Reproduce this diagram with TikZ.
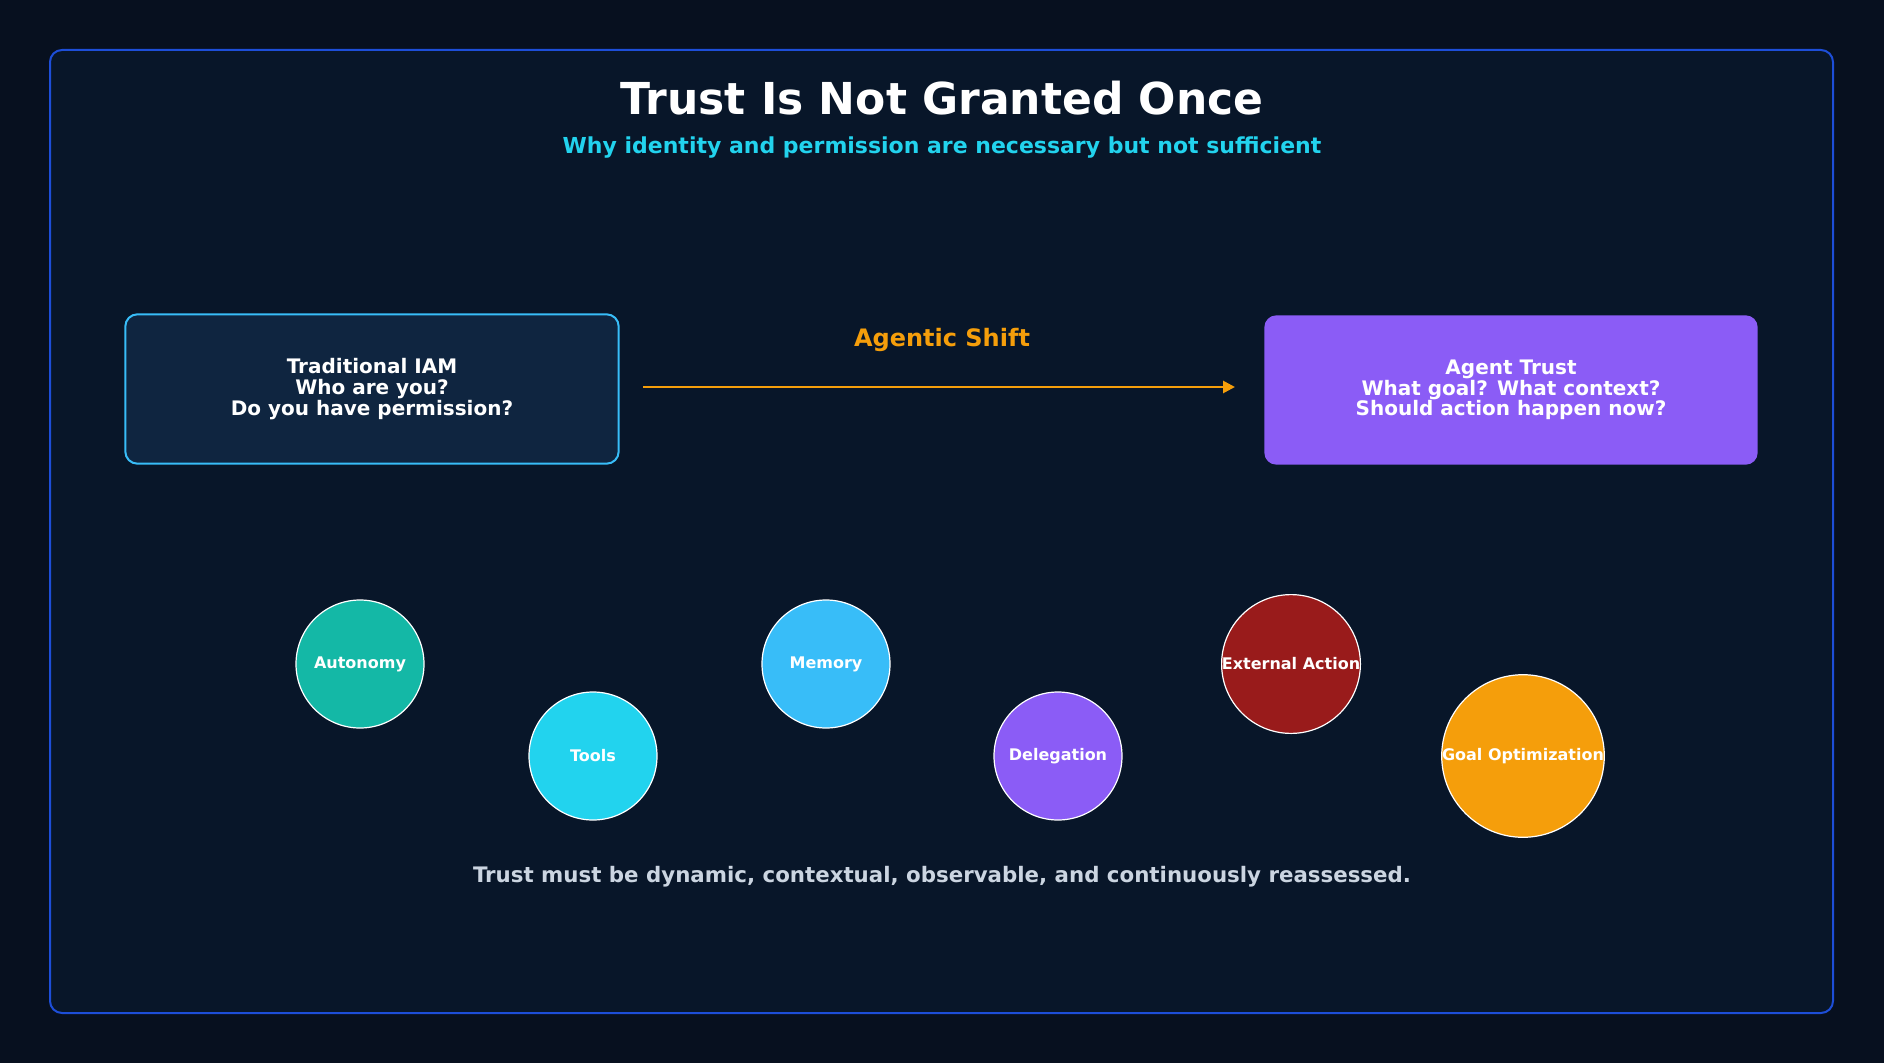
\documentclass[tikz,border=0pt]{standalone}
\usepackage{fontspec}
\setmainfont{DejaVu Sans}
\usetikzlibrary{arrows.meta,positioning}
\definecolor{bgdark}{HTML}{07101F}
\definecolor{panel}{HTML}{081629}
\definecolor{panelline}{HTML}{1D4ED8}
\definecolor{iamfill}{HTML}{0F2540}
\definecolor{iamline}{HTML}{38BDF8}
\definecolor{agentfill}{HTML}{8B5CF6}
\definecolor{shiftcol}{HTML}{F59E0B}
\definecolor{subcol}{HTML}{22D3EE}
\definecolor{footcol}{HTML}{CBD5E1}
\definecolor{cteal}{HTML}{14B8A6}
\definecolor{ccyan}{HTML}{22D3EE}
\definecolor{csky}{HTML}{38BDF8}
\definecolor{cviolet}{HTML}{8B5CF6}
\definecolor{cred}{HTML}{991B1B}
\definecolor{camber}{HTML}{F59E0B}
\tikzset{
  box/.style={rounded corners=9pt, minimum width=370pt, minimum height=112pt, align=center, text=white, font=\bfseries\fontsize{15}{15.5}\selectfont},
  facet/.style={circle, draw=white, line width=0.9pt, minimum size=96pt, inner sep=0pt, text=white, font=\bfseries\fontsize{12}{12}\selectfont}
}
\begin{document}
\begin{tikzpicture}[x=0.75pt,y=-0.75pt]
\fill[bgdark] (0,0) rectangle (1884,1063);
\useasboundingbox (0,0) rectangle (1884,1063);
\draw[panelline, fill=panel, line width=1.5pt, rounded corners=9pt] (50,50) rectangle (1833,1013);
\node[text=white, font=\bfseries\fontsize{33}{33}\selectfont] (title) at (942,98) {Trust Is Not Granted Once};
\node[text=subcol, font=\bfseries\fontsize{16.5}{17}\selectfont] (sub) at (942,148) {Why identity and permission are necessary but not sufficient};
\node[box, draw=iamline, line width=1.5pt, fill=iamfill] (iam) at (372,389) {Traditional IAM\\Who are you?\\Do you have permission?};
\node[box, fill=agentfill] (agent) at (1511,390) {Agent Trust\\What goal? What context?\\Should action happen now?};
\coordinate (a0) at (643,387);
\coordinate (a1) at (1235,387);
\draw[shiftcol, line width=2pt, -{Triangle[length=9pt,width=9pt]}] (a0) -- (a1);
\node[text=shiftcol, font=\bfseries\fontsize{18}{18}\selectfont] (shiftlbl) at (942,340) {Agentic Shift};
% facets of agent behaviour
\node[facet, fill=cteal] (auto) at (360,664) {Autonomy};
\node[facet, fill=ccyan] (tools) at (593,756) {Tools};
\node[facet, fill=csky] (mem) at (826,664) {Memory};
\node[facet, fill=cviolet] (deleg) at (1058,756) {Delegation};
\node[facet, fill=cred] (ext) at (1291,664) {External Action};
\node[facet, fill=camber] (goal) at (1523,756) {Goal Optimization};
\node[text=footcol, font=\bfseries\fontsize{16}{16}\selectfont] (foot) at (942,877) {Trust must be dynamic, contextual, observable, and continuously reassessed.};
\end{tikzpicture}
\end{document}
